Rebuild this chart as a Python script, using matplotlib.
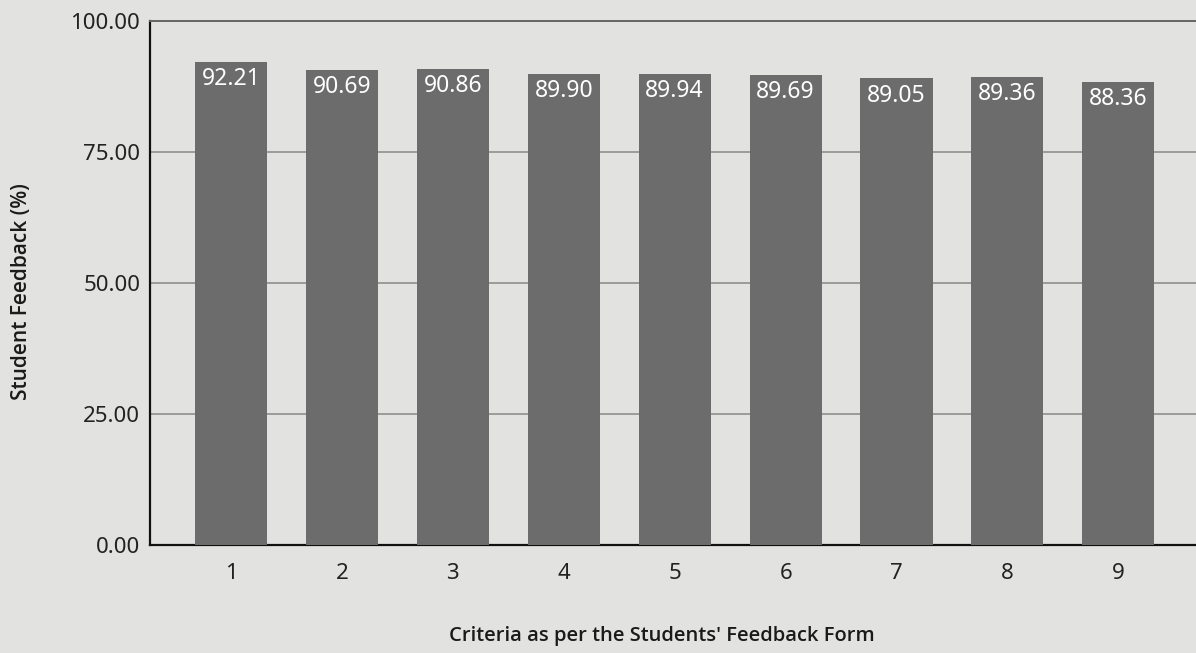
import matplotlib
matplotlib.use('Agg')
import matplotlib.pyplot as plt
import numpy as np

# 学生反馈各项指标
criteria = ['1', '2', '3', '4', '5', '6', '7', '8', '9']
feedback = [92.21, 90.69, 90.86, 89.90, 89.94, 89.69, 89.05, 89.36, 88.36]
yticks = [0, 25, 50, 75, 100]

plt.rcParams['font.family'] = ['Noto Sans', 'DejaVu Sans']

bg = '#e2e2e0'
fig = plt.figure(figsize=(11.96, 6.53), dpi=100, facecolor=bg)
ax = fig.add_axes([0.1254, 0.1654, 0.8746, 0.8024])
ax.set_facecolor(bg)

x = np.arange(1, len(criteria) + 1)
bars = ax.bar(x, feedback, width=0.65, color='#6c6c6c', zorder=3)

for b, v in zip(bars, feedback):
    ax.text(b.get_x() + b.get_width() / 2, v - 1.0, f'{v:.2f}',
            ha='center', va='top', color='white', fontsize=16.5, zorder=4)

ax.set_xlim(0.27, 9.7)
ax.set_ylim(0, 100)
ax.set_xticks(x)
ax.set_xticklabels(criteria, fontsize=16, color='#222222')
ax.set_yticks(yticks)
ax.set_yticklabels([f'{t:.2f}' for t in yticks], fontsize=16, color='#222222')
ax.tick_params(axis='both', length=0, pad=7)
ax.tick_params(axis='x', pad=13)

ax.grid(axis='y', color='#8e8e8e', linewidth=1.2, zorder=0)
ax.spines['right'].set_visible(False)
ax.spines['top'].set_color('#666666')
ax.spines['top'].set_linewidth(1.4)
ax.spines['left'].set_color('#111111')
ax.spines['bottom'].set_color('#111111')
ax.spines['left'].set_linewidth(1.6)
ax.spines['bottom'].set_linewidth(1.6)

fig.text(662 / 1196, 1 - 636 / 653, "Criteria as per the Students' Feedback Form",
         ha='center', va='center', fontsize=14.5, fontweight='semibold',
         family=['Open Sans', 'DejaVu Sans'], color='#1a1a1a')
fig.text(22 / 1196, 1 - 292 / 653, 'Student Feedback (%)', rotation=90, ha='center', va='center',
         fontsize=15, fontweight='semibold', family=['Open Sans', 'DejaVu Sans'], color='#1a1a1a')

plt.savefig('out.png', dpi=100, facecolor=bg)
plt.close(fig)
